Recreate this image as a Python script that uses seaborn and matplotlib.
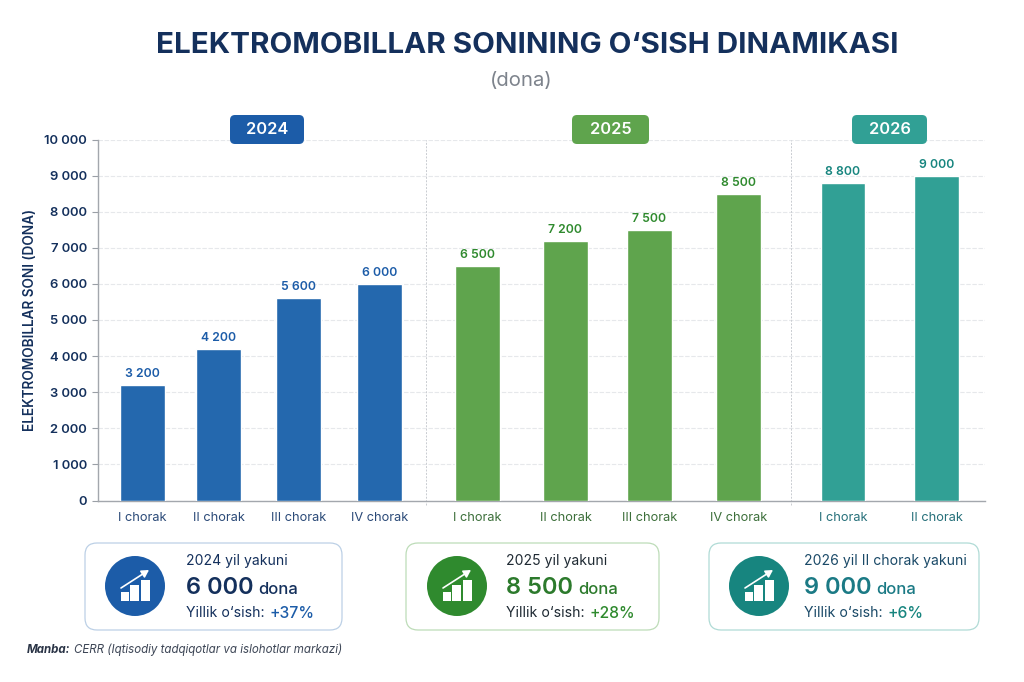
import matplotlib
matplotlib.use("Agg")
import matplotlib.pyplot as plt
from matplotlib.patches import FancyBboxPatch, Circle, Rectangle
import pandas as pd
import seaborn as sns

quarters = ["I chorak", "II chorak", "III chorak", "IV chorak",
            "I chorak", "II chorak", "III chorak", "IV chorak",
            "I chorak", "II chorak"]
years = ["2024"] * 4 + ["2025"] * 4 + ["2026"] * 2
values = [3200, 4200, 5600, 6000, 6500, 7200, 7500, 8500, 8800, 9000]
slots = [142.5, 218.5, 298.5, 379.5, 477.5, 565.5, 649.5, 738.5, 843, 936.5]
palette = {"2024": "#2468ae", "2025": "#5fa44d", "2026": "#31a095"}
dark = {"2024": "#1c5ca8", "2025": "#2f8a2e", "2026": "#17857f"}
tick_ink = {"2024": "#2b4a78", "2025": "#3c6f3a", "2026": "#26707a"}
card_ink = {"2024": "#14305c", "2025": "#1f2a33", "2026": "#1b4a68"}
total_ink = {"2024": "#14305c", "2025": "#2c7a2c", "2026": "#1b7a85"}
badges = {"2024": (230, 304), "2025": (572, 649), "2026": (852, 927)}
separators = [426, 791]

summary_titles = ["2024 yil yakuni", "2025 yil yakuni", "2026 yil II chorak yakuni"]
summary_totals = ["6 000", "8 500", "9 000"]
summary_growth = ["+37%", "+28%", "+6%"]

NAVY = "#14305c"
FONT = "Inter"

sns.set_theme(style="white")
plt.rcParams["font.family"] = [FONT, "DejaVu Sans"]

W, H = 1024, 682
fig = plt.figure(figsize=(W / 100, H / 100), dpi=100, facecolor="white")


def thousands(v):
    return f"{v:,}".replace(",", " ")


# main bar panel
ax = fig.add_axes([98 / W, 1 - 500.5 / H, (985 - 98) / W, (500.5 - 139.5) / H])
df = pd.DataFrame({"slot": slots, "value": values, "year": years})
sns.barplot(data=df, x="slot", y="value", hue="year", palette=palette, native_scale=True,
            dodge=False, width=0.58, saturation=1, legend=False, ax=ax, zorder=3)
ax.set_xlim(98, 985)
ax.set_ylim(0, 10000)
ax.set_yticks(range(0, 10001, 1000))
ax.set_yticklabels([thousands(v) for v in range(0, 10001, 1000)],
                   fontsize=9.4, color=NAVY, fontweight="semibold")
ax.set_xticks(slots)
ax.set_xticklabels(quarters, fontsize=9.2)
for lab, y in zip(ax.get_xticklabels(), years):
    lab.set_color(tick_ink[y])
ax.tick_params(axis="y", length=4, width=0.8, color="#9a9fa6", pad=4, left=True)
ax.tick_params(axis="x", length=0, pad=8)
ax.set_xlabel("")
ax.set_ylabel("ELEKTROMOBILLAR SONI (DONA)", fontsize=9.8, color=NAVY,
              fontweight="semibold", labelpad=5)
ax.grid(axis="y", color="#e6e8eb", lw=0.8, ls=(0, (4, 1.5)), zorder=0)
ax.set_axisbelow(True)
for side in ("top", "right"):
    ax.spines[side].set_visible(False)
for side in ("left", "bottom"):
    ax.spines[side].set_color("#a3a7ad")
    ax.spines[side].set_linewidth(1.0)
for x in separators:
    ax.plot([x, x], [-130, 10000], color="#c9ccd1", lw=0.7, ls=(0, (2, 1.5)),
            clip_on=False, zorder=1)
for x, v, y in zip(slots, values, years):
    ax.annotate(thousands(v), (x, v), xytext=(0, 3.5), textcoords="offset points", ha="center",
                va="bottom", fontsize=8.8, fontweight="semibold", color=dark[y])

# overlay in pixel coordinates for headings, badges and summary cards
ov = fig.add_axes([0, 0, 1, 1], facecolor="none")
ov.set_xlim(0, W)
ov.set_ylim(H, 0)
ov.axis("off")

ov.text(527.5, 45.5, "ELEKTROMOBILLAR SONINING O‘SISH DINAMIKASI", ha="center", va="center",
        fontsize=21.3, fontweight="bold", color=NAVY)
ov.text(521, 81, "(dona)", ha="center", va="center", fontsize=14.6, color="#7d838c")

for yr, (bx0, bx1) in badges.items():
    ov.add_patch(FancyBboxPatch((bx0 + 4, 115 + 4), bx1 - bx0 - 8, 29 - 8,
                                boxstyle="round,pad=4,rounding_size=5",
                                fc=palette[yr] if yr != "2024" else dark[yr], ec="none"))
    ov.text((bx0 + bx1) / 2, 129.5, yr, ha="center", va="center", fontsize=11.8,
            fontweight="semibold", color="white")

cards = [(85, 342, "2024", 135, 186, "#bcd0e6"),
         (406, 659, "2025", 457, 506, "#bddcb8"),
         (709, 979, "2026", 759, 804, "#b0dbd6")]
for (x0, x1, yr, cx, tx, edge), title, total, growth in zip(
        cards, summary_titles, summary_totals, summary_growth):
    y0, y1 = 543, 630
    r = 12
    ov.add_patch(FancyBboxPatch((x0 + r, y0 + r), x1 - x0 - 2 * r, y1 - y0 - 2 * r,
                                boxstyle=f"round,pad={r},rounding_size={r}",
                                fc="white", ec=edge, lw=0.9))
    icy = 586
    ov.add_patch(Circle((cx, icy), 30, fc=dark[yr], ec="none"))
    for dx0, bw, h in ((-14, 7.5, 9), (-5, 9, 16), (6, 8.5, 21)):
        ov.add_patch(Rectangle((cx + dx0, icy + 15 - h), bw, h, fc="white", ec="none"))
    ov.annotate("", xy=(cx + 14, icy - 16), xytext=(cx - 14, icy + 2),
                arrowprops=dict(arrowstyle="-|>,head_length=0.35,head_width=0.2",
                                color="white", lw=1.2, shrinkA=0, shrinkB=0))
    ov.text(tx, 561, title, ha="left", va="center", fontsize=10.1, color=card_ink[yr])
    big = ov.text(tx, 587.5, total, ha="left", va="center", fontsize=17,
                  fontweight="semibold", color=total_ink[yr])
    fig.canvas.draw()
    bb = big.get_window_extent().transformed(ov.transData.inverted())
    ov.text(bb.x1 + 5, 589, "dona", ha="left", va="center", fontsize=12,
            fontweight="medium", color=total_ink[yr])
    lab = ov.text(tx, 613, "Yillik o‘sish:", ha="left", va="center", fontsize=10.2,
                  color=card_ink[yr])
    bb = lab.get_window_extent().transformed(ov.transData.inverted())
    ov.text(bb.x1 + 5, 613, growth, ha="left", va="center", fontsize=11.3,
            fontweight="medium", color=dark[yr])

src = ov.text(27, 650, "Manba:", ha="left", va="center", fontsize=8.3,
              fontweight="bold", style="italic", color="#2a3446")
fig.canvas.draw()
bb = src.get_window_extent().transformed(ov.transData.inverted())
ov.text(bb.x1 + 3, 650, "CERR (Iqtisodiy tadqiqotlar va islohotlar markazi)", ha="left",
        va="center", fontsize=8.3, style="italic", color="#3d4656")

fig.savefig("out.png", dpi=100, facecolor="white")
